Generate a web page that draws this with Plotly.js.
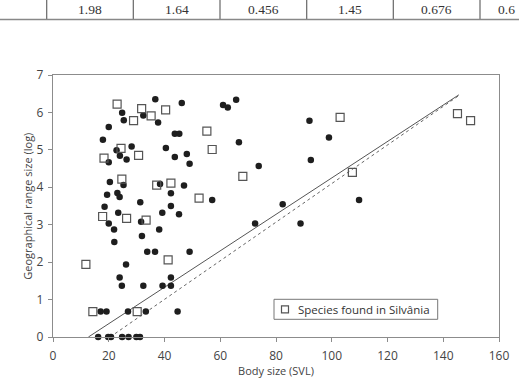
<!DOCTYPE html>
<html>
<head>
<meta charset="utf-8">
<script src="https://cdn.plot.ly/plotly-3.0.1.min.js"></script>
<style>
  html, body { margin: 0; padding: 0; background: #fff; }
  #chart { width: 519px; height: 378px; }
</style>
</head>
<body>
<div id="chart"></div>
<script>
// Summary row printed above the figure
const tableValues = ['1.98', '1.64', '0.456', '1.45', '0.676', '0.6'];

// Species not recorded in Silvânia: body size (SVL) vs. log geographical range size
const otherSVL = [36.7, 46.2, 24.8, 32.4, 25.4, 37.7, 20.0, 43.7, 45.3, 17.9,
                  28.2, 22.8, 40.5, 48.0, 24.0, 43.7, 26.4, 20.0, 49.0, 20.4,
                  25.3, 38.4, 47.0, 19.4, 23.1, 23.9, 42.3, 31.3, 57.1, 18.5,
                  42.3, 23.4, 39.2, 45.2, 20.0, 31.6, 21.9, 22.0, 31.9, 38.1,
                  33.8, 36.6, 49.0, 26.2, 23.9, 24.7, 32.4, 39.3, 42.3, 42.3,
                  17.1, 19.2, 26.9, 33.3, 44.7, 16.2, 19.8, 20.8, 24.8, 27.1,
                  29.9, 31.2, 61.0, 62.7, 65.7, 66.7, 73.8, 92.0, 99.0, 92.5,
                  82.4, 109.8, 72.5, 88.8];
const otherRange = [6.35, 6.25, 5.99, 5.92, 5.79, 5.73, 5.61, 5.43, 5.43, 5.27,
                    5.09, 4.99, 5.05, 4.89, 4.84, 4.81, 4.74, 4.67, 4.63, 4.14,
                    4.06, 4.09, 4.05, 3.80, 3.85, 3.74, 3.84, 3.60, 3.66, 3.48,
                    3.50, 3.32, 3.32, 3.28, 3.03, 3.08, 2.87, 2.54, 2.70, 2.87,
                    2.28, 2.28, 2.28, 1.94, 1.59, 1.37, 1.37, 1.37, 1.37, 1.59,
                    0.68, 0.68, 0.68, 0.68, 0.68, 0, 0, 0, 0, 0,
                    0, 0, 6.20, 6.13, 6.34, 5.20, 4.57, 5.78, 5.33, 4.73,
                    3.55, 3.66, 3.03, 3.03];

// Species found in Silvânia
const silvSVL = [23.0, 31.8, 35.2, 40.4, 28.9, 55.2, 57.1, 24.4, 18.3, 30.7,
                 24.7, 37.2, 42.3, 52.4, 17.8, 26.4, 33.4, 11.8, 41.3, 14.3,
                 30.2, 68.1, 103.0, 107.4, 145.1, 149.8];
const silvRange = [6.22, 6.10, 5.91, 6.07, 5.78, 5.50, 5.01, 5.04, 4.78, 4.85,
                   4.22, 4.06, 4.11, 3.71, 3.22, 3.17, 3.12, 1.94, 2.06, 0.68,
                   0.68, 4.29, 5.87, 4.40, 5.97, 5.78];

// Boundary lines (solid and dotted)
const solidLineX = [12.7, 145.6];
const solidLineY = [0, 6.47];
const dottedLineX = [20.5, 145.6];
const dottedLineY = [0, 6.45];

const legendLabel = 'Species found in Silvânia';
const xTitle = 'Body size (SVL)';
const yTitle = 'Geographical range size (log)';

// ---- page geometry ----
const W = 519, H = 378;
const M = { l: 53, r: 20, t: 75, b: 41 };
const PW = W - M.l - M.r, PH = H - M.t - M.b;
const px = x => (x - M.l) / PW;          // page pixel -> paper x
const py = y => (H - M.b - y) / PH;      // page pixel -> paper y

const FONT = '"Open Sans", "Noto Sans", sans-serif';
const SERIF = '"Liberation Serif", "DejaVu Serif", serif';

const traces = [
  {
    x: solidLineX, y: solidLineY, mode: 'lines', type: 'scatter',
    line: { color: '#555', width: 1 }, hoverinfo: 'skip', showlegend: false
  },
  {
    x: dottedLineX, y: dottedLineY, mode: 'lines', type: 'scatter',
    line: { color: '#666', width: 1, dash: 'dot' }, hoverinfo: 'skip', showlegend: false
  },
  {
    x: otherSVL, y: otherRange, mode: 'markers', type: 'scatter', cliponaxis: false,
    marker: { symbol: 'circle', size: 6.5, color: '#1e1e1e' }, showlegend: false
  },
  {
    x: silvSVL, y: silvRange, mode: 'markers', type: 'scatter', cliponaxis: false,
    name: legendLabel,
    marker: { symbol: 'square-open', size: 8, color: '#555', line: { width: 1.2, color: '#555' } },
    showlegend: false
  }
];

// table row above the chart
const colLines = [46.7, 133.3, 220, 306.7, 393.3, 480];
const shapes = [];
const annotations = [];
colLines.forEach(x => shapes.push({
  type: 'line', xref: 'paper', yref: 'paper',
  x0: px(x), x1: px(x), y0: py(0), y1: py(19.5),
  line: { color: '#666', width: 1.2 }
}));
shapes.push({
  type: 'line', xref: 'paper', yref: 'paper',
  x0: px(0), x1: px(W), y0: py(19.5), y1: py(19.5),
  line: { color: '#888', width: 1.5 }
});
tableValues.forEach((v, i) => {
  const last = i === tableValues.length - 1;
  annotations.push({
    xref: 'paper', yref: 'paper',
    x: last ? px(496) : px((colLines[i] + colLines[i + 1]) / 2),
    xanchor: last ? 'left' : 'center',
    y: py(9.5), yanchor: 'middle', showarrow: false,
    text: v, font: { family: SERIF, size: 13.5, color: '#333' }
  });
});

// legend box
shapes.push({
  type: 'rect', xref: 'paper', yref: 'paper',
  x0: px(274), x1: px(437.7), y0: py(299.3), y1: py(319.3),
  line: { color: '#777', width: 1 }, fillcolor: '#fff'
});
shapes.push({
  type: 'rect', xref: 'paper', yref: 'paper',
  x0: px(281.5), x1: px(288.5), y0: py(305.8), y1: py(312.8),
  line: { color: '#555', width: 1.2 }, fillcolor: 'rgba(0,0,0,0)'
});
annotations.push({
  xref: 'paper', yref: 'paper', x: px(295.5), y: py(309.3),
  xanchor: 'left', yanchor: 'middle', showarrow: false,
  text: legendLabel, font: { family: FONT, size: 11.5, color: '#333' }
});

// vertical axis title
annotations.push({
  xref: 'paper', yref: 'paper', x: px(26.7), y: 0.5,
  xanchor: 'center', yanchor: 'middle', textangle: -90, showarrow: false,
  text: yTitle, font: { family: FONT, size: 11, color: '#444' }
});

const axisCommon = {
  showgrid: false, zeroline: false, showline: true, mirror: true,
  linecolor: '#8c8c8c', linewidth: 1.2,
  ticks: 'outside', ticklen: 4, tickwidth: 1, tickcolor: '#8c8c8c',
  tickfont: { family: FONT, size: 12, color: '#444' }
};

const layout = {
  width: W, height: H,
  margin: M,
  paper_bgcolor: '#fff', plot_bgcolor: '#fff',
  showlegend: false,
  xaxis: Object.assign({}, axisCommon, {
    range: [0, 160], dtick: 20, tick0: 0, ticklabelstandoff: 3,
    title: { text: xTitle, font: { family: FONT, size: 11, color: '#444' }, standoff: 10 }
  }),
  yaxis: Object.assign({}, axisCommon, {
    range: [0, 7], dtick: 1, tick0: 0, ticklabelstandoff: 2
  }),
  shapes: shapes,
  annotations: annotations
};

Plotly.newPlot('chart', traces, layout, { staticPlot: true, displayModeBar: false });
</script>
</body>
</html>
